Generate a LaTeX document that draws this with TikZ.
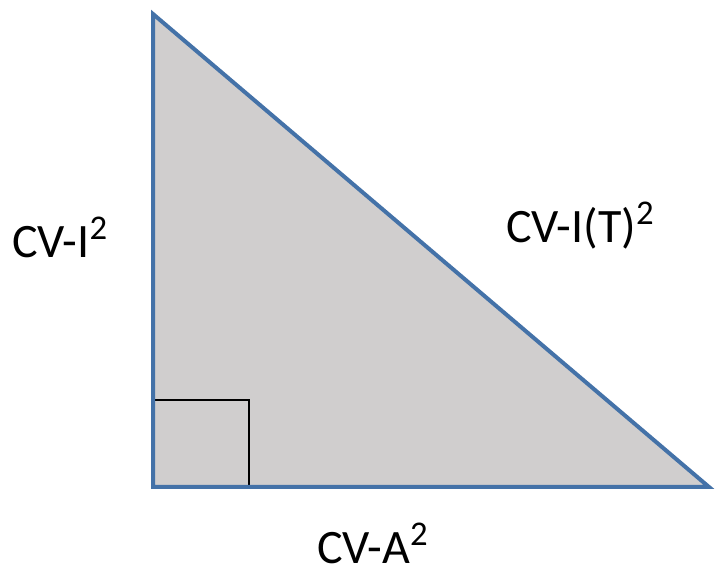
\documentclass[tikz,border=0pt]{standalone}
\usepackage{fontspec}
\setmainfont{Carlito}
\definecolor{edgeblue}{RGB}{68,114,168}
\definecolor{fillgray}{RGB}{208,206,206}
\newcommand{\sqsup}{\raisebox{14pt}{\fontsize{26}{26}\selectfont 2}}
\begin{document}
\begin{tikzpicture}[x=0.75pt,y=-0.75pt,
  lbl/.style={anchor=base west,inner sep=0pt,font=\fontsize{36}{40}\selectfont}]
\useasboundingbox (0,0) rectangle (719,570);
\coordinate (T) at (153,14);
\coordinate (L) at (153,487);
\coordinate (R) at (709,487);
\fill[fillgray] (T) -- (L) -- (R) -- cycle;
\draw[black,line width=1.1pt] (153,400) -- (249,400) -- (249,487);
\draw[edgeblue,line width=3pt,line join=miter] (T) -- (L) -- (R) -- cycle;
\node[lbl] (a) at (12,258) {CV-I\sqsup};
\node[lbl] (b) at (506,243) {CV-I(T)\sqsup};
\node[lbl] (c) at (317,564) {CV-A\sqsup};
\end{tikzpicture}
\end{document}
